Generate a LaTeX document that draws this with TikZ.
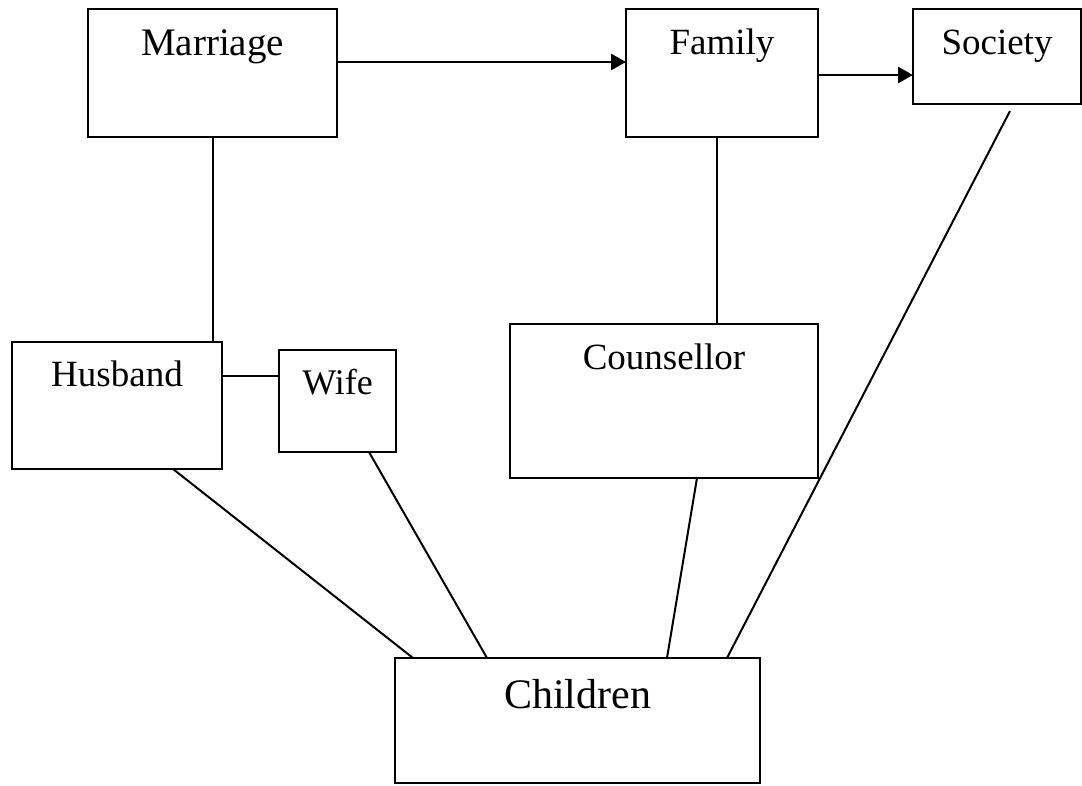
\documentclass[tikz,border=0pt]{standalone}
\usepackage{fontspec}
\setmainfont{Liberation Serif}
\usetikzlibrary{arrows.meta}
\newcommand{\fs}[1]{\fontsize{#1pt}{#1pt}\selectfont}
\begin{document}
\begin{tikzpicture}[x=1pt,y=-1pt,
    blk/.style={draw, rectangle, line width=2pt, inner sep=0pt, outer sep=0pt,
      anchor=north west, align=center},
    link/.style={line width=2pt},
    flow/.style={line width=2.6pt, -{Triangle[length=15pt,width=16pt]}}]
  \useasboundingbox (0,0) rectangle (1082,786);
  \node[blk, minimum width=249pt, text height=47pt, text depth=81pt, font=\fs{39}] (marriage) at (88,9) {Marriage};
  \node[blk, minimum width=192pt, text height=46pt, text depth=82pt, font=\fs{37}] (family) at (626,9) {Family};
  \node[blk, minimum width=168pt, text height=46pt, text depth=49pt, font=\fs{37}] (society) at (913,9) {Society};
  \node[blk, minimum width=210pt, text height=44pt, text depth=83pt, font=\fs{37}] (husband) at (12,342) {Husband};
  \node[blk, minimum width=117pt, text height=44pt, text depth=58pt, font=\fs{36}] (wife) at (279,350) {Wife};
  \node[blk, minimum width=308pt, text height=46pt, text depth=108pt, font=\fs{37}] (counsellor) at (510,324) {Counsellor};
  \node[blk, minimum width=365pt, text height=50pt, text depth=75pt, font=\fs{42}] (children) at (395,658) {Children};
  % arrows along the top
  \draw[flow] ([yshift=11pt]marriage.east) -- ([yshift=11pt]marriage.east -| family.west);
  \draw[flow] ([yshift=-2pt]family.east) -- ([yshift=-2pt]family.east -| society.west);
  % plain links
  \begin{scope}[link]
    \draw (marriage.south) -- (marriage.south |- husband.north);
    \draw ([yshift=30pt]husband.east) -- ([yshift=30pt]husband.east -| wife.west);
    \draw ([xshift=-5pt]family.south) -- ([xshift=-5pt]family.south |- counsellor.north);
    \draw ([xshift=56pt]husband.south) -- ([xshift=-164.5pt]children.north);
    \draw ([xshift=31.5pt]wife.south) -- ([xshift=-90.5pt]children.north);
    \draw ([xshift=33pt]counsellor.south) -- ([xshift=89.5pt]children.north);
    \draw ([xshift=13pt,yshift=-7pt]society.south) -- ([xshift=149.5pt]children.north);
  \end{scope}
\end{tikzpicture}
\end{document}
